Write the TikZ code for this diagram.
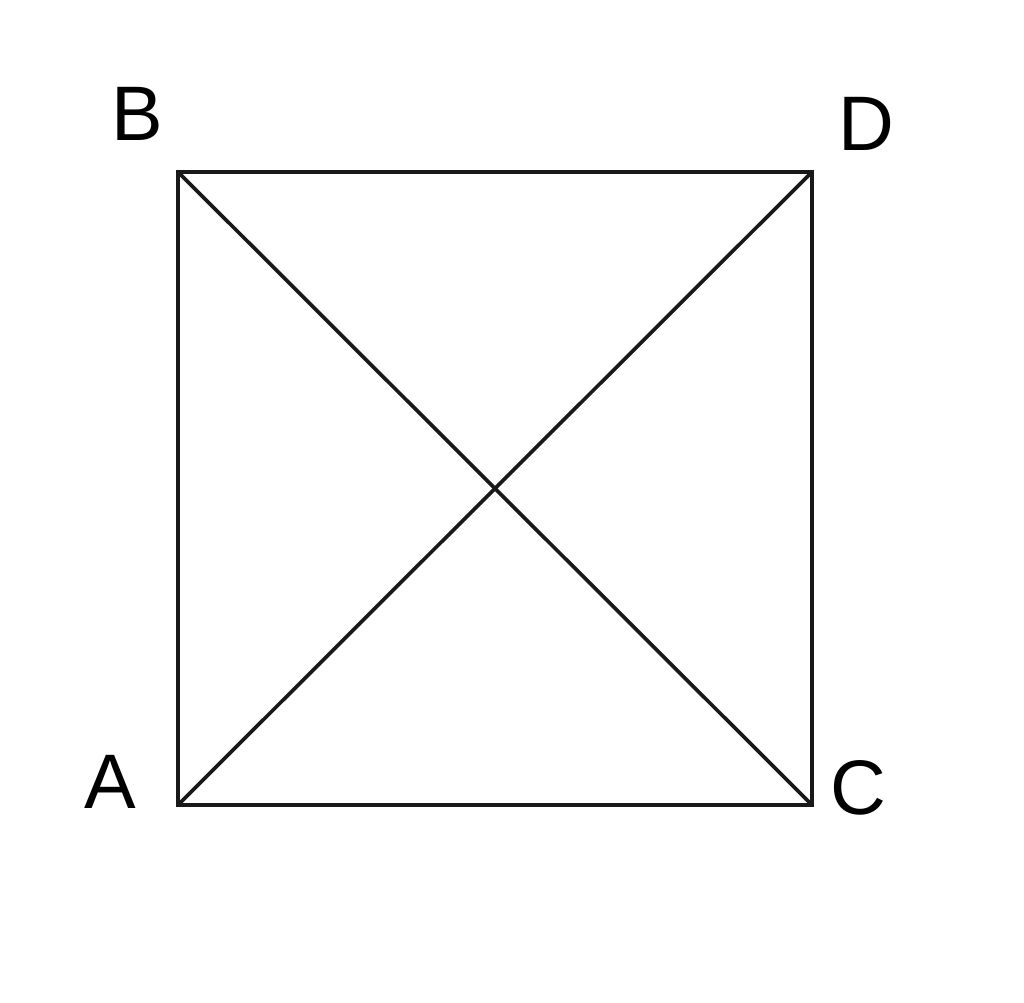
\documentclass[tikz,border=0pt]{standalone}
\usepackage{fontspec}
\setmainfont{Liberation Sans}
\usetikzlibrary{positioning,calc}
\tikzset{
    every node/.style={font=\fontsize{22}{26}\selectfont},
    edge/.style={draw=black!90, line width=1.05pt},
    lbl/.style={inner sep=0pt, align=center},
}
\begin{document}
\begin{tikzpicture}
\useasboundingbox (0,0) rectangle (10.24,10.03);
% corners of the square
\coordinate (A) at (1.78,1.98);
\coordinate (B) at (1.78,8.31);
\coordinate (C) at (8.12,1.98);
\coordinate (D) at (8.12,8.31);

\draw[edge] (A) -- (C) -- (D) -- (B) -- cycle;
\draw[edge] (A) -- (D);
\draw[edge] (B) -- (C);

% labels
\node[lbl] (labA) at ($(A)+(-0.68,0.23)$) {A};
\node[lbl] (labB) at ($(B)+(-0.41,0.58)$) {B};
\node[lbl] (labC) at ($(C)+(0.46,0.17)$) {C};
\node[lbl] (labD) at ($(D)+(0.54,0.48)$) {D};
\end{tikzpicture}
\end{document}
